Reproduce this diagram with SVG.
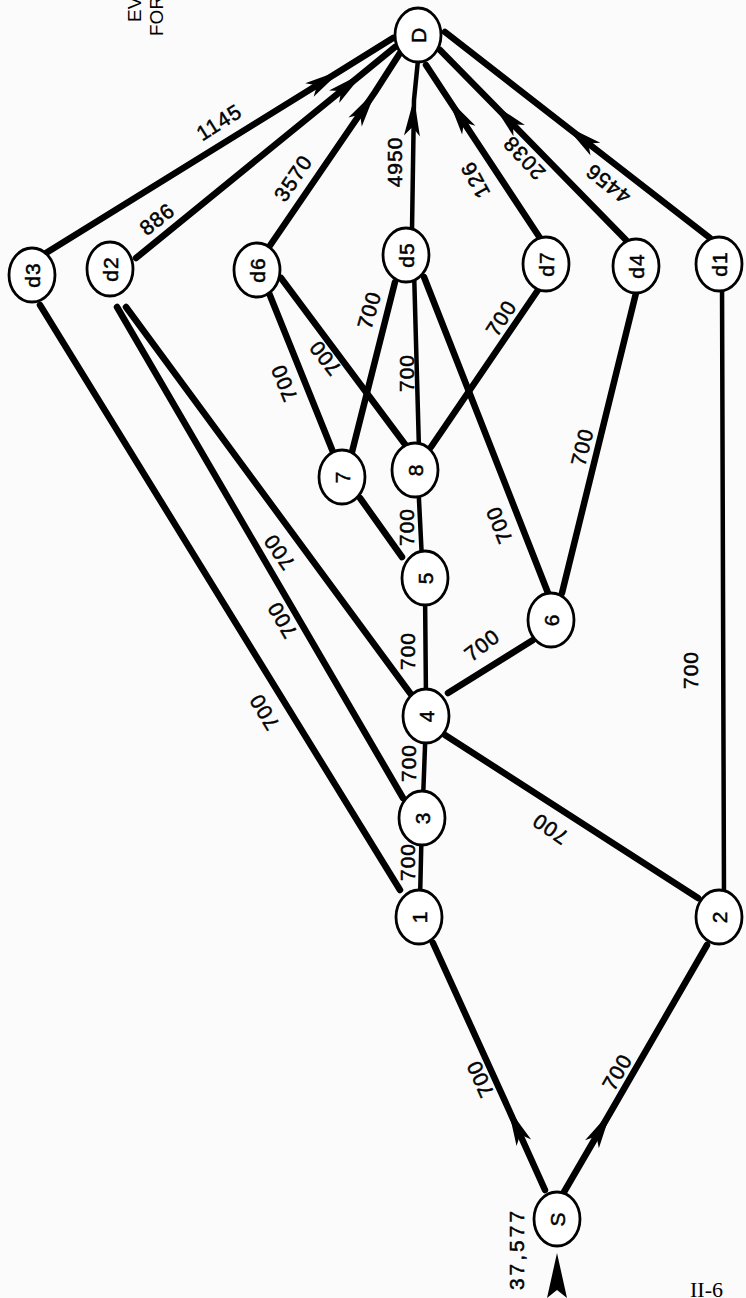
<svg xmlns="http://www.w3.org/2000/svg" width="746" height="1298" viewBox="0 0 746 1298">
<style>
.edge{stroke:#000;stroke-width:6.5;fill:none;stroke-linecap:round}
.thin{stroke-width:4.5}
.node ellipse{fill:#fff;stroke:#000;stroke-width:2.8}
.t{font-family:"Liberation Sans",Arial,sans-serif;font-size:21px;text-anchor:middle;dominant-baseline:central;fill:#000;stroke:#000;stroke-width:0.5px;letter-spacing:1px}
.hdr{font-family:"Liberation Sans",Arial,sans-serif;font-size:19px;fill:#000}
</style>
<defs>
<marker id="ah" viewBox="-40 -10 44 20" markerWidth="44" markerHeight="20" refX="0" refY="0" orient="auto" markerUnits="userSpaceOnUse">
<path d="M2,0 L-36,-8 L-27,0 L-36,8 Z" fill="#000"/>
</marker>
</defs>
<rect width="746" height="1298" fill="#fbfbfb"/>
<text class="hdr" transform="translate(141,22) rotate(-90)">EV</text>
<text class="hdr" transform="translate(163,36) rotate(-90)">FOR</text>
<g id="connectors">
<path class="edge" d="M545,1190 L509,1110 L433,943" marker-mid="url(#ah)"/>
<path class="edge" d="M564,1192 L610,1113 L707,945" marker-mid="url(#ah)"/>
<path class="edge thin" d="M420,900 L422,815"/>
<path class="edge thin" d="M423,800 L426,720"/>
<path class="edge thin" d="M426,700 L425,590"/>
<path class="edge thin" d="M422,560 L418,480"/>
<path class="edge" d="M400,890 L40,305"/>
<path class="edge" d="M403,798 L117,307"/>
<path class="edge" d="M410,693 L126,307"/>
<path class="edge" d="M448,693 L533,640"/>
<path class="edge" d="M445,735 L698,898"/>
<path class="edge thin" d="M724,900 L722,280"/>
<path class="edge" d="M402,557 L360,498"/>
<path class="edge" d="M333,452 L269,293"/>
<path class="edge" d="M352,452 L395,282"/>
<path class="edge" d="M407,447 L281,278"/>
<path class="edge thin" d="M419,450 L414,270"/>
<path class="edge" d="M431,447 L538,290"/>
<path class="edge" d="M548,593 L424,277"/>
<path class="edge" d="M562,593 L636,293"/>
<path class="edge" d="M46,253 L340,71 L393,38" marker-mid="url(#ah)"/>
<path class="edge" d="M136,258 L362,74 L395,47" marker-mid="url(#ah)"/>
<path class="edge" d="M269,247 L375,92 L400,53" marker-mid="url(#ah)"/>
<path class="edge thin" d="M412,230 L414,100 L418,60" marker-mid="url(#ah)"/>
<path class="edge" d="M540,238 L449,100 L426,65" marker-mid="url(#ah)"/>
<path class="edge" d="M626,240 L494,105 L440,50" marker-mid="url(#ah)"/>
<path class="edge" d="M710,238 L567,127 L445,32" marker-mid="url(#ah)"/>
<path d="M557,1253 L567,1298 L557,1290 L547,1298 Z" fill="#000"/>
<text class="t" transform="translate(480,1079) rotate(-114)">700</text>
<text class="t" transform="translate(617,1072) rotate(-60)">700</text>
<text class="t" transform="translate(407,862) rotate(-90)">700</text>
<text class="t" transform="translate(408,763) rotate(-90)">700</text>
<text class="t" transform="translate(407,651) rotate(-90)">700</text>
<text class="t" transform="translate(406,527) rotate(-90)">700</text>
<text class="t" transform="translate(482,645) rotate(-37.5)">700</text>
<text class="t" transform="translate(550,829) rotate(-146)">700</text>
<text class="t" transform="translate(690,670) rotate(-90)">700</text>
<text class="t" transform="translate(264,712) rotate(-121)">700</text>
<text class="t" transform="translate(282,620) rotate(-120)">700</text>
<text class="t" transform="translate(279,552) rotate(-125)">700</text>
<text class="t" transform="translate(284,383) rotate(-112)">700</text>
<text class="t" transform="translate(325,358) rotate(-128)">700</text>
<text class="t" transform="translate(369,310) rotate(-74)">700</text>
<text class="t" transform="translate(406,373) rotate(-90)">700</text>
<text class="t" transform="translate(501,318) rotate(-57)">700</text>
<text class="t" transform="translate(499,525) rotate(-112)">700</text>
<text class="t" transform="translate(582,447) rotate(-76)">700</text>
<text class="t" transform="translate(219,122) rotate(-32)">1145</text>
<text class="t" transform="translate(157,219) rotate(-38)">886</text>
<text class="t" transform="translate(293,178) rotate(-56)">3570</text>
<text class="t" transform="translate(394,162) rotate(-90)">4950</text>
<text class="t" transform="translate(475,180) rotate(-119)">126</text>
<text class="t" transform="translate(524,158) rotate(-133)">2038</text>
<text class="t" transform="translate(608,184) rotate(-142)">4456</text>
<text class="t" style="font-size:21px;letter-spacing:3px" transform="translate(516,1249) rotate(-90)">37,577</text>
</g>
<g id="D" class="node"><ellipse cx="418" cy="35" rx="23" ry="27"/><text class="t" transform="translate(418,35) rotate(-90)">D</text></g>
<g id="d3" class="node"><ellipse cx="32" cy="275" rx="23" ry="27"/><text class="t" transform="translate(32,275) rotate(-90)">d3</text></g>
<g id="d2" class="node"><ellipse cx="110" cy="269" rx="23" ry="27"/><text class="t" transform="translate(110,269) rotate(-90)">d2</text></g>
<g id="d6" class="node"><ellipse cx="257" cy="270" rx="23" ry="27"/><text class="t" transform="translate(257,270) rotate(-90)">d6</text></g>
<g id="d5" class="node"><ellipse cx="406" cy="255" rx="23" ry="27"/><text class="t" transform="translate(406,255) rotate(-90)">d5</text></g>
<g id="d7" class="node"><ellipse cx="546" cy="264" rx="23" ry="27"/><text class="t" transform="translate(546,264) rotate(-90)">d7</text></g>
<g id="d4" class="node"><ellipse cx="636" cy="266" rx="23" ry="27"/><text class="t" transform="translate(636,266) rotate(-90)">d4</text></g>
<g id="d1" class="node"><ellipse cx="719" cy="264" rx="23" ry="27"/><text class="t" transform="translate(719,264) rotate(-90)">d1</text></g>
<g id="n7" class="node"><ellipse cx="342" cy="477" rx="23" ry="27"/><text class="t" transform="translate(342,477) rotate(-90)">7</text></g>
<g id="n8" class="node"><ellipse cx="415" cy="470" rx="23" ry="27"/><text class="t" transform="translate(415,470) rotate(-90)">8</text></g>
<g id="n5" class="node"><ellipse cx="425" cy="578" rx="23" ry="27"/><text class="t" transform="translate(425,578) rotate(-90)">5</text></g>
<g id="n6" class="node"><ellipse cx="551" cy="620" rx="23" ry="27"/><text class="t" transform="translate(551,620) rotate(-90)">6</text></g>
<g id="n4" class="node"><ellipse cx="426" cy="716" rx="23" ry="27"/><text class="t" transform="translate(426,716) rotate(-90)">4</text></g>
<g id="n3" class="node"><ellipse cx="422" cy="818" rx="23" ry="27"/><text class="t" transform="translate(422,818) rotate(-90)">3</text></g>
<g id="n1" class="node"><ellipse cx="419" cy="917" rx="23" ry="27"/><text class="t" transform="translate(419,917) rotate(-90)">1</text></g>
<g id="n2" class="node"><ellipse cx="719" cy="917" rx="23" ry="27"/><text class="t" transform="translate(719,917) rotate(-90)">2</text></g>
<g id="S" class="node"><ellipse cx="557" cy="1219" rx="23" ry="27"/><text class="t" transform="translate(557,1219) rotate(-90)">S</text></g>
<text style="font-family:'Liberation Serif',serif;font-size:22px" x="690" y="1297">II-6</text>
</svg>
